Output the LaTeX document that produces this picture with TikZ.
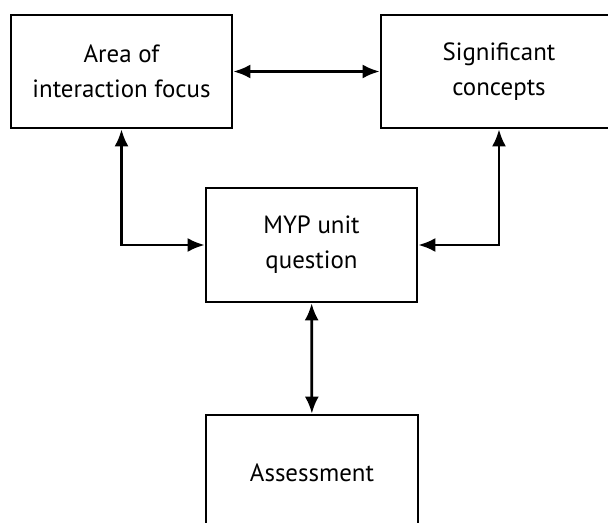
\documentclass[tikz,border=0pt]{standalone}
\usepackage{fontspec}
\setmainfont{PT Sans}
\usetikzlibrary{arrows.meta}
\begin{document}
\begin{tikzpicture}[>={Latex[length=17bp,width=14bp]},line join=miter,line width=2.7bp,
  box/.style={draw=black,rectangle,align=center,inner sep=0pt,
    font=\fontsize{25}{35}\selectfont},]
%%
\useasboundingbox (0bp,0bp) rectangle (608bp,523bp);
\clip (0bp,0bp) rectangle (608bp,523bp);
\node (area) at (121.5bp,451.5bp) [box,minimum width=221bp,minimum height=113bp] {Area of\\interaction focus};
  \node (signif) at (499bp,451.5bp) [box,minimum width=236bp,minimum height=113bp] {Significant\\concepts};
  \node (myp) at (311.5bp,278bp) [box,minimum width=211bp,minimum height=114bp] {MYP unit\\question};
  \node (assess) at (312bp,50.5bp) [box,minimum width=212bp,minimum height=115bp] {Assessment};
  \draw [<->,solid] (area) -- (signif);
  \draw [<->,solid] (area.south) |- (myp.west);
  \draw [<->,solid] (signif.south) |- (myp.east);
  \draw [<->,solid] (myp) -- (assess);
%
\end{tikzpicture}
\end{document}
